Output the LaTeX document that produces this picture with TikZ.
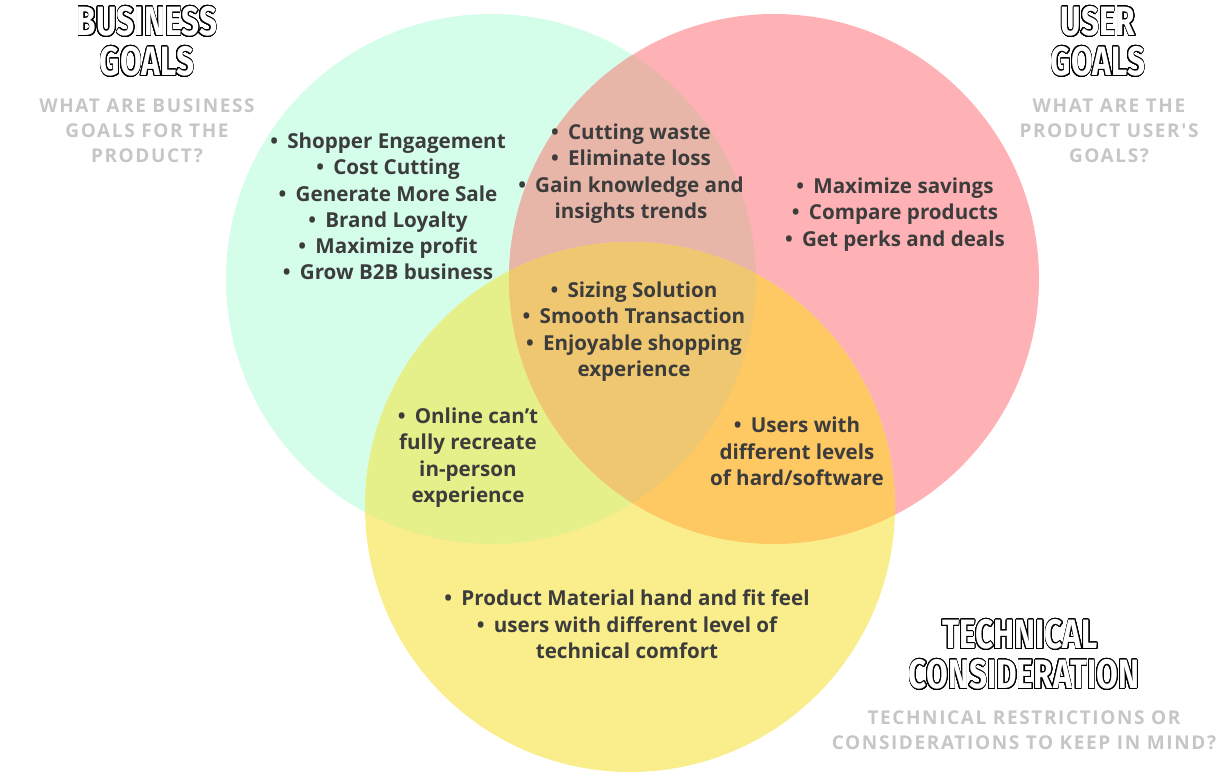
\documentclass[tikz,border=0pt]{standalone}
\usepackage{fontspec}
\setmainfont{Open Sans}
\newfontfamily\titlefam{Fira Sans}
\newfontfamily\subfam{Open Sans}[Ligatures=TeXOff, LetterSpace=8.5]
\usepackage{contour}
\contournumber{32}
\contourlength{1pt}
\definecolor{cG}{HTML}{D4FDEA}
\definecolor{cR}{HTML}{FFB2B5}
\definecolor{cY}{HTML}{FAEE8C}
\definecolor{cGR}{HTML}{E7B6A9}
\definecolor{cGY}{HTML}{E6F08A}
\definecolor{cRY}{HTML}{FEC862}
\definecolor{cGRY}{HTML}{EFC770}
\definecolor{txt}{HTML}{3C3C3C}
\definecolor{subc}{HTML}{C6C6C6}
\newcommand\bodyfnt{\bfseries\fontsize{20.6}{26.3}\selectfont}
\newcommand\subfnt{\subfam\bfseries\fontsize{19}{25}\selectfont}
\newcommand\ttlfnt{\titlefam\bfseries\fontsize{41}{41}\selectfont}
\newcommand\outl[1]{\scalebox{0.77}[1]{\contour{black}{\textcolor{white}{#1}}}}
\newcommand\bul{\textbullet\hspace{0.45em}}
\tikzset{
  body/.style={font=\bodyfnt, text=txt, align=center, inner sep=0pt},
  subt/.style={font=\subfnt, text=subc, align=center, inner sep=0pt},
  ttl/.style={font=\ttlfnt, inner sep=0pt}
}
\begin{document}
\begin{tikzpicture}[x=1pt,y=-1pt]
\useasboundingbox (0,0) rectangle (1227,773);
\coordinate (cg) at (491,279);
\coordinate (cr) at (774,279);
\coordinate (cy) at (630,507);
% base circles
\fill[cG] (cg) circle[radius=265pt];
\fill[cR] (cr) circle[radius=265pt];
\fill[cY] (cy) circle[radius=265pt];
% pairwise overlaps
\begin{scope}
  \clip (cg) circle[radius=265pt];
  \fill[cGR] (cr) circle[radius=265pt];
  \fill[cGY] (cy) circle[radius=265pt];
\end{scope}
\begin{scope}
  \clip (cr) circle[radius=265pt];
  \fill[cRY] (cy) circle[radius=265pt];
\end{scope}
\begin{scope}
  \clip (cg) circle[radius=265pt];
  \clip (cr) circle[radius=265pt];
  \fill[cGRY] (cy) circle[radius=265pt];
\end{scope}
% titles
\node[ttl] (bus1) at (147,22) {\outl{BUSINESS}};
\node[ttl] (bus2) at (147,62) {\outl{GOALS}};
\node[subt] (bussub) at (147,131) {WHAT ARE BUSINESS\\GOALS FOR THE\\PRODUCT?};
\node[ttl] (usr1) at (1098,22) {\outl{USER}};
\node[ttl] (usr2) at (1098,62) {\outl{GOALS}};
\node[subt] (usrsub) at (1109,131) {WHAT ARE THE\\PRODUCT USER'S\\GOALS?};
\node[ttl] (tec1) at (1020,635) {\outl{TECHNICAL}};
\node[ttl] (tec2) at (1024,675) {\outl{CONSIDERATION}};
\node[subt] (tecsub) at (1024,730.5) {TECHNICAL RESTRICTIONS OR\\CONSIDERATIONS TO KEEP IN MIND?};
% lists
\node[body] (lg) at (388,206.5) {\bul Shopper Engagement\\\bul Cost Cutting\\\bul Generate More Sale\\\bul Brand Loyalty\\\bul Maximize profit\\\bul Grow B2B business};
\node[body] (lgr) at (631,173.5) {\bul Cutting waste\\\bul Eliminate loss\\\bul Gain knowledge and\\insights trends};
\node[body] (lr) at (895,214.5) {\bul Maximize savings\\\bul Compare products\\\bul Get perks and deals};
\node[body] (lgry) at (634,331.5) {\bul Sizing Solution\\\bul Smooth Transaction\\\bul Enjoyable shopping\\experience};
\node[body] (lgy) at (468,457.5) {\bul Online can’t\\fully recreate\\in-person\\experience};
\node[body] (lry) at (797,451.5) {\bul Users with\\different levels\\of hard/software};
\node[body] (ly) at (627,624.5) {\bul Product Material hand and fit feel\\\bul users with different level of\\technical comfort};
\end{tikzpicture}
\end{document}
